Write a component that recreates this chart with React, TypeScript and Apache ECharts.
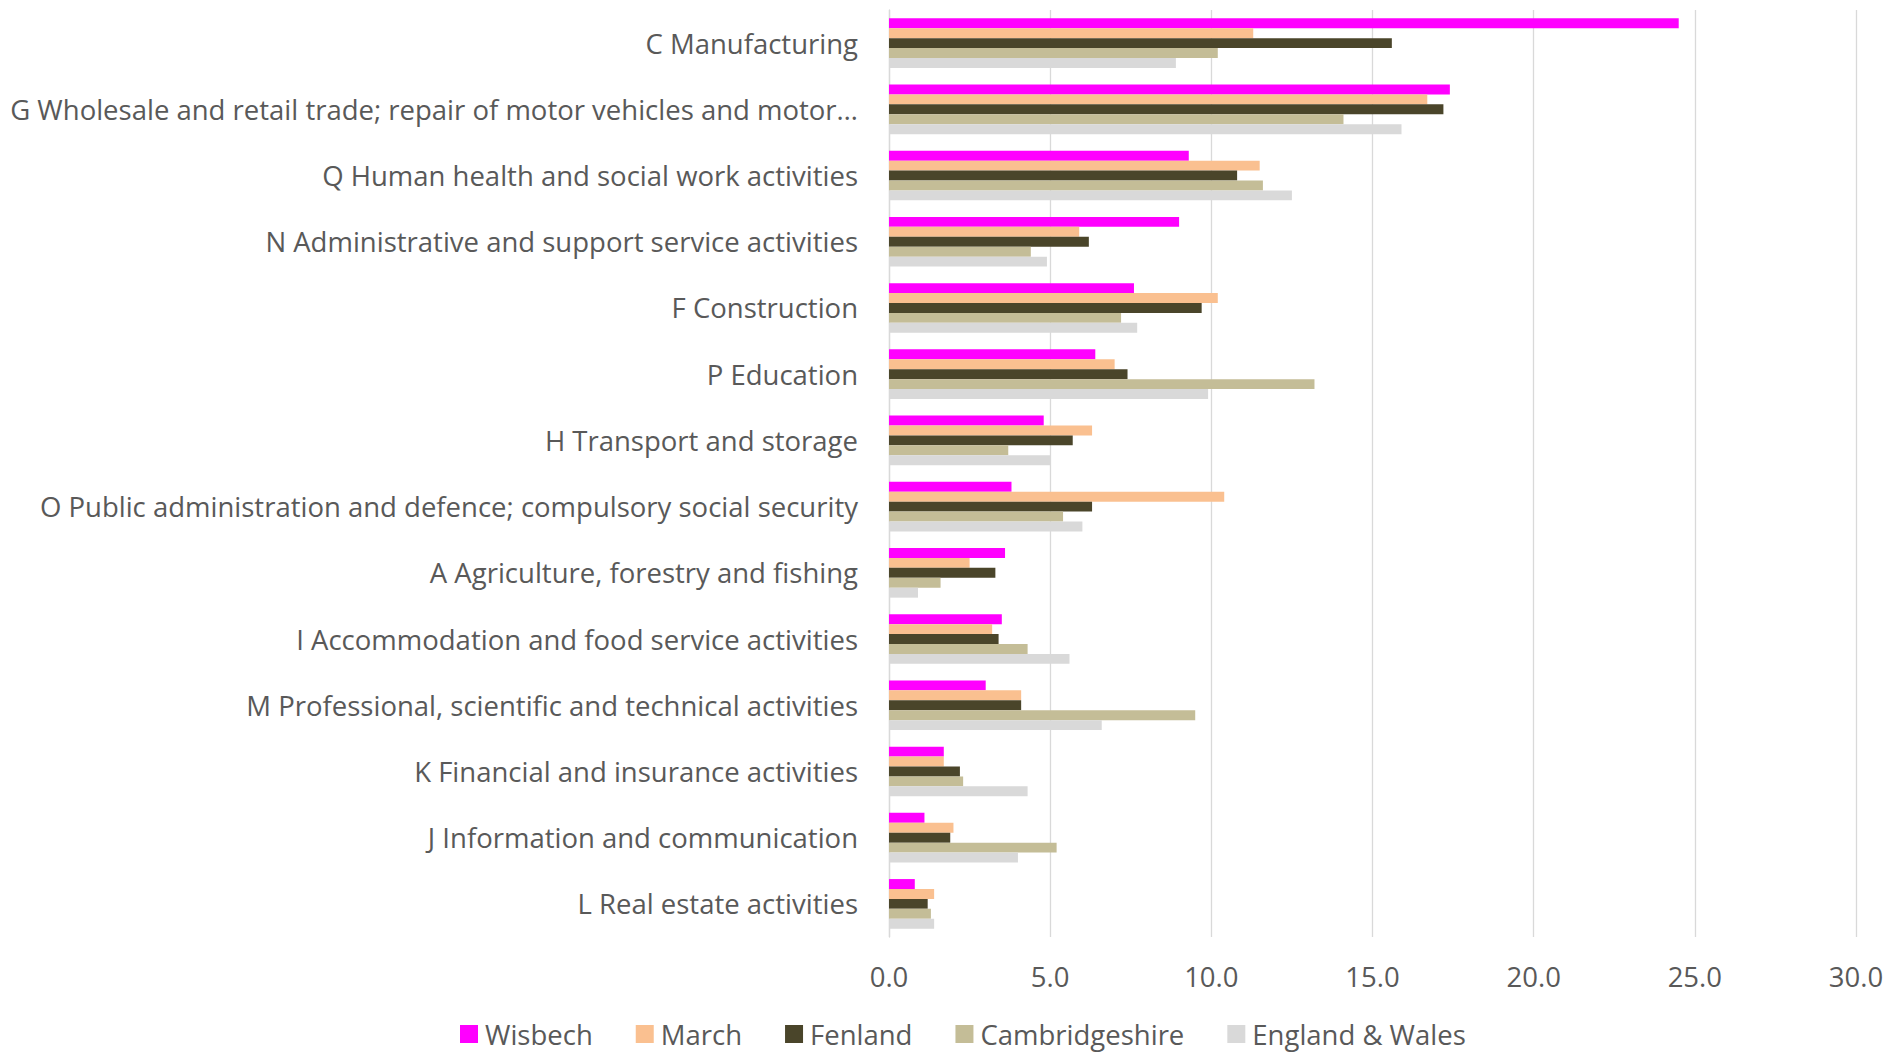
import React, { useEffect, useRef } from "react";
import * as echarts from "echarts";

const categories = [
  "C Manufacturing",
  "G Wholesale and retail trade; repair of motor vehicles and motor…",
  "Q Human health and social work activities",
  "N Administrative and support service activities",
  "F Construction",
  "P Education",
  "H Transport and storage",
  "O Public administration and defence; compulsory social security",
  "A Agriculture, forestry and fishing",
  "I Accommodation and food service activities",
  "M Professional, scientific and technical activities",
  "K Financial and insurance activities",
  "J Information and communication",
  "L Real estate activities",
];

const seriesNames = ["Wisbech", "March", "Fenland", "Cambridgeshire", "England & Wales"];
const seriesColors = ["#FF00FF", "#FAC090", "#4A452A", "#C4BD97", "#D9D9D9"];

const wisbech = [24.5, 17.4, 9.3, 9.0, 7.6, 6.4, 4.8, 3.8, 3.6, 3.5, 3.0, 1.7, 1.1, 0.8];
const march = [11.3, 16.7, 11.5, 5.9, 10.2, 7.0, 6.3, 10.4, 2.5, 3.2, 4.1, 1.7, 2.0, 1.4];
const fenland = [15.6, 17.2, 10.8, 6.2, 9.7, 7.4, 5.7, 6.3, 3.3, 3.4, 4.1, 2.2, 1.9, 1.2];
const cambridgeshire = [10.2, 14.1, 11.6, 4.4, 7.2, 13.2, 3.7, 5.4, 1.6, 4.3, 9.5, 2.3, 5.2, 1.3];
const englandWales = [8.9, 15.9, 12.5, 4.9, 7.7, 9.9, 5.0, 6.0, 0.9, 5.6, 6.6, 4.3, 4.0, 1.4];

const xMin = 0;
const xMax = 30;
const xInterval = 5;

const FONT = "Open Sans";
const FS = 27.5;
const TEXT = "#595959";

export default function App() {
  const ref = useRef<HTMLDivElement>(null);
  useEffect(() => {
    if (!ref.current) return;
    const chart = echarts.init(ref.current, undefined, { renderer: "svg" });
    const data = [wisbech, march, fenland, cambridgeshire, englandWales];
    chart.setOption({
      animation: false,
      backgroundColor: "#ffffff",
      textStyle: { fontFamily: FONT, color: TEXT },
      grid: { left: 889, right: 34, top: 10, bottom: 116, containLabel: false },
      legend: {
        bottom: 0,
        left: 455,
        itemWidth: 18,
        itemHeight: 18,
        itemGap: 43,
        icon: "rect",
        textStyle: { fontFamily: FONT, fontSize: FS, color: TEXT, padding: [0, 0, 0, 2] },
        data: seriesNames,
      },
      xAxis: {
        type: "value",
        min: xMin,
        max: xMax,
        interval: xInterval,
        axisLine: { show: false },
        axisTick: { show: false },
        splitLine: { show: true, lineStyle: { color: "#D9D9D9", width: 1.3 } },
        axisLabel: {
          margin: 25,
          fontFamily: FONT,
          fontSize: FS,
          color: TEXT,
          formatter: (v: number) => v.toFixed(1),
        },
      },
      yAxis: {
        type: "category",
        inverse: true,
        data: categories,
        axisLine: { show: true, lineStyle: { color: "#D9D9D9", width: 1.3 } },
        axisTick: { show: false },
        axisLabel: { margin: 31, fontFamily: FONT, fontSize: FS, color: TEXT },
      },
      series: seriesNames.map((name, i) => ({
        name,
        type: "bar",
        data: data[i],
        barGap: "0%",
        barCategoryGap: "25%",
        itemStyle: { color: seriesColors[i] },
      })),
    });
    return () => chart.dispose();
  }, []);
  return (
    <div
      ref={ref}
      style={{ position: "fixed", left: 0, top: 0, width: 1890, height: 1053 }}
    />
  );
}
